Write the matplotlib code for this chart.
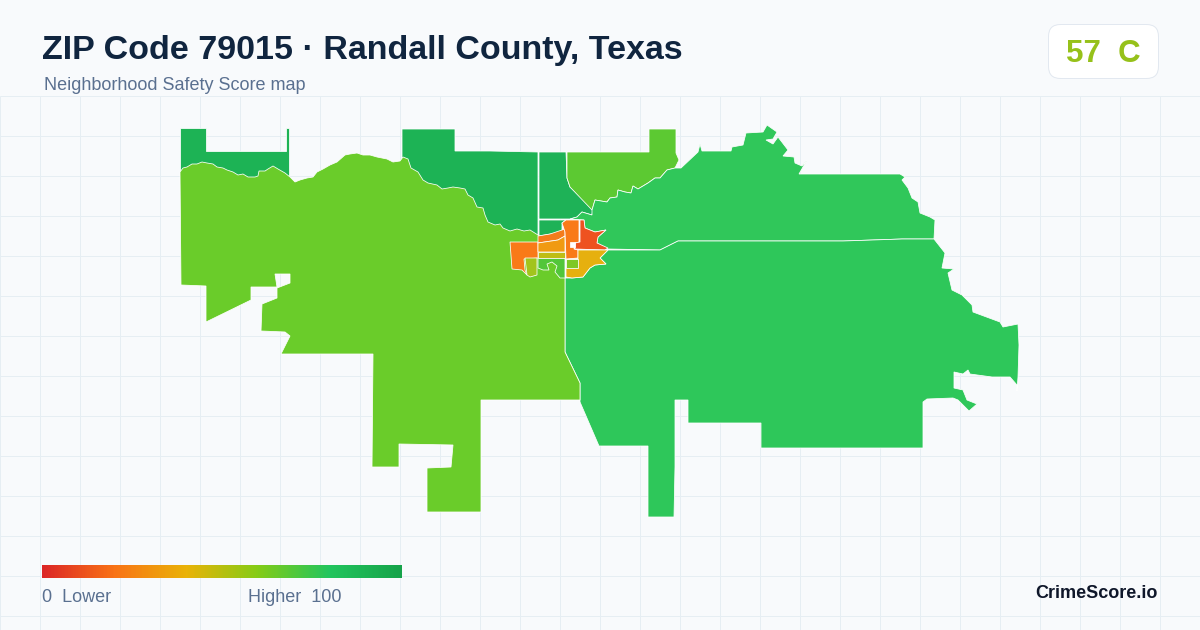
import matplotlib
matplotlib.use("Agg")
import matplotlib.pyplot as plt
import numpy as np
from matplotlib.colors import LinearSegmentedColormap
from matplotlib.patches import FancyBboxPatch, Polygon

plt.rcParams['font.family'] = ['Liberation Sans', 'DejaVu Sans']

TITLE = "ZIP Code 79015 · Randall County, Texas"
SUBTITLE = "Neighborhood Safety Score map"
SCORE = "57  C"
BRAND = "CrimeScore.io"
LEGEND_LOW = "0  Lower"
LEGEND_HIGH = "Higher  100"

legend_stops = [0.0, 0.2, 0.4, 0.6, 0.8, 1.0]
legend_colors = ["#dc2626", "#f97316", "#eab308", "#84cc16", "#22c55e", "#16a34a"]

west_river = [(180,172),(183,168),(187,167),(192,164),(197,164),(202,162),(207,163),(213,164),(217,167),(223,168),
              (227,170),(233,172),(238,175),(243,174),(248,177),(255,177),(258,176),(259,171),(265,171),(268,169),
              (273,166),(278,169),(285,173),(290,177),(295,182),(300,180),(307,178),(313,177),(317,172),(323,169),
              (330,165),(337,162),(345,155),(350,154),(357,153),(363,155),(370,155),(377,157),(387,159),(393,162),
              (400,161),(403,157),(408,159),(411,168),(418,172),(423,180),(428,183),(437,185),(442,189),(448,188),
              (453,187),(460,188),(465,189),(468,195),(473,198),(477,207),(483,208),(485,215),(488,222),(495,225),
              (500,224),(503,228),(510,231),(517,229),(524,231),(530,230),(538,235)]
east_river = [(592,210),(595,200),(601,201),(607,202),(610,198),(617,197),(618,190),(625,192),(631,193),(633,186),
              (638,189),(648,183),(655,178),(660,178),(667,170),(675,168)]

nw_strip = [(180,128),(206,128),(206,151),(286,151),(286,128),(289,128),(289,185),(180,185)]
north_a = [(402,129),(455,129),(455,151),(490,151),(538,152),(538,240),(500,240),(402,175)]
north_b = [(539,152),(566,152),(567,178),(570,187),(593,208),(592,215),(582,212),(577,217),(570,219),(539,219)]
north_c = [(539,220),(566,220),(562,223),(562,232),(539,236)]
ne_lime = [(567,152),(649,152),(649,129),(676,129),(676,153),(679,160)] + east_river[::-1] + [(570,187),(567,178)]
ne_big = east_river + [(681,168),(698,152),(700,144),(702,151),(731,151),(732,147),(743,145),
          (746,133),(763,132),(767,125),(777,132),(773,139),(766,140),(773,144),(778,137),(788,150),(783,156),
          (794,157),(795,163),(802,166),(807,160),(799,174),(900,174),(905,177),(902,180),(908,188),(912,198),
          (918,202),(920,213),(930,217),(935,220),(934,239),(902,239),(843,241),(678,241),(660,250),(608,249),
          (597,243),(598,237),(606,230),(595,232),(585,228),(584,220),(570,219),(577,217),(582,212),(592,215)]
se_big = [(608,250),(660,250),(678,241),(843,241),(902,239),(934,239),(945,253),(942,268),(954,269),(948,273),
          (952,290),(962,295),(972,305),(973,312),(1000,322),(1003,327),(1018,324),(1019,345),(1018,377),(1017,391),
          (1017,385),(1010,377),(992,377),(970,374),(968,370),(963,374),(954,372),(954,388),(963,390),(967,400),
          (977,404),(969,411),(958,400),(953,398),(927,399),(923,402),(923,448),(761,448),(761,423),(688,423),
          (688,400),(675,400),(675,467),(674,517),(648,517),(648,446),(599,446),(580,402),(580,383),(565,352),
          (565,278),(572,278),(583,277),(590,268),(595,265),(606,264),(600,258)]
main_green = west_river + [(540,240),(565,240),(565,352),(580,383),(580,400),(481,400),
              (481,512),(427,512),(427,468),(451,467),(453,445),(399,444),(399,467),(372,467),(373,354),(281,354),
              (290,336),(285,332),(261,331),(262,304),(277,298),(277,288),(290,283),(290,274),(275,274),(277,287),
              (251,287),(251,300),(206,322),(206,286),(181,285)]
west_orange = [(510,242),(538,242),(538,258),(524,259),(525,270),(527,275),(522,270),(512,269)]
band_top = [(538,236),(550,234),(562,230),(565,229),(565,236),(558,240),(538,243)]
band_mid = [(538,243),(558,240),(565,236),(565,252),(538,252)]
band_thin = [(538,252),(565,252),(565,258),(538,258)]
sw_small = [(525,258),(537,258),(537,275),(530,277),(527,275)]
inner_green = [(538,258),(565,258),(565,278),(560,278),(555,272),(557,266),(552,262),(547,264),(549,270),(543,270),(538,268)]
center_col = [(562,223),(566,220),(579,220),(579,242),(575,243),(574,249),(578,250),(578,258),(566,259),(565,232)]
red_part = [(580,220),(584,220),(585,228),(595,232),(606,230),(598,237),(597,243),(608,248),(605,250),(575,249),(575,243),(580,242)]
amber_part = [(578,250),(608,250),(600,258),(606,264),(595,265),(590,268),(583,277),(572,278),(566,277),(566,268),(578,268),(578,259)]
lime_square = [(566,259),(578,259),(578,268),(566,268)]
hole = [(570,242),(575,242),(575,247),(570,247)]

regions = [
    (nw_strip, "#1db355"), (north_a, "#1db355"), (north_b, "#1eb257"), (north_c, "#1eb257"),
    (ne_lime, "#5cc932"), (ne_big, "#30c75a"), (se_big, "#2ec75a"), (main_green, "#6acc2a"),
    (inner_green, "#52c63a"), (west_orange, "#f97a18"), (band_top, "#f47c1c"), (band_mid, "#f09a12"),
    (band_thin, "#bfbd14"), (sw_small, "#a2c41c"), (center_col, "#f97a18"), (red_part, "#ee5220"),
    (amber_part, "#e6b00f"), (lime_square, "#7fc825"), (hole, "#ffffff"),
]

fig = plt.figure(figsize=(12, 6.3), dpi=100, facecolor="#f8fafc")
ax = fig.add_axes([0, 0, 1, 1])
ax.set_xlim(0, 1200)
ax.set_ylim(630, 0)
ax.axis("off")

grid_x = np.arange(0, 1200, 40) - 0.5
grid_y = np.arange(96, 630, 40) - 0.5
ax.vlines(grid_x, 96, 630, color="#e6eef3", lw=0.72, zorder=1)
ax.hlines(grid_y, 0, 1200, color="#e6eef3", lw=0.72, zorder=1)

for pts, col in regions:
    ax.add_patch(Polygon(pts, closed=True, facecolor=col, edgecolor="#ffffff", lw=0.55, zorder=2, joinstyle="miter"))

ax.text(42, 59.5, TITLE, fontsize=24.48, fontweight="bold", color="#10253f", ha="left", va="baseline", zorder=5)
ax.text(44, 90.5, SUBTITLE, fontsize=13, color="#5a7090", ha="left", va="baseline", zorder=5)

ax.add_patch(FancyBboxPatch((1048.5+12, 24.5+12), 110-24, 54-24, boxstyle="round,pad=12,rounding_size=12",
                            facecolor="#ffffff", edgecolor="#e2e8f0", lw=0.72, zorder=5))
ax.text(1103, 62, SCORE, fontsize=22.5, fontweight="bold", color="#96c11a", ha="center", va="baseline", zorder=6)

cmap = LinearSegmentedColormap.from_list("score", list(zip(legend_stops, legend_colors)))
ax.imshow(np.linspace(0, 1, 360)[None, :], cmap=cmap, extent=(42, 402, 578, 565), aspect="auto", zorder=5)
ax.set_xlim(0, 1200)
ax.set_ylim(630, 0)

ax.text(42, 602, LEGEND_LOW, fontsize=13, color="#5a7090", ha="left", va="baseline", zorder=5)
ax.text(341, 602, LEGEND_HIGH, fontsize=13, color="#5a7090", ha="right", va="baseline", zorder=5)
ax.text(1158, 598, BRAND, fontsize=13, fontweight="bold", color="#0f172a", ha="right", va="baseline", zorder=5)

fig.savefig("out.png", dpi=100, facecolor=fig.get_facecolor())
